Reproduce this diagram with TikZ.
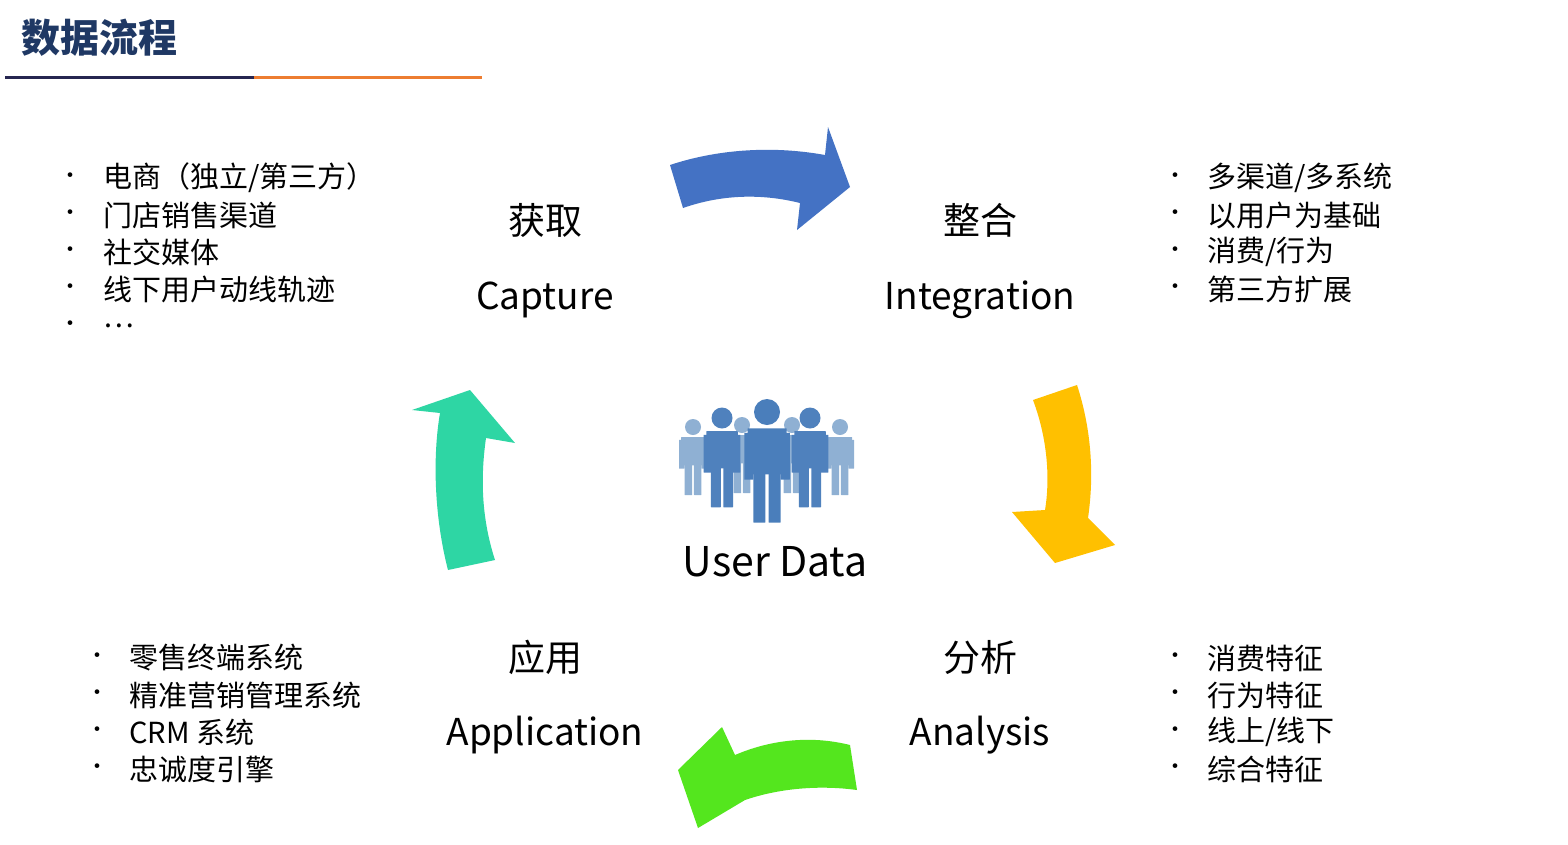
\documentclass[tikz,border=0pt]{standalone}
\usepackage{fontspec}
\setmainfont{Noto Sans CJK SC}
\begin{document}
\begin{tikzpicture}[x=1pt,y=-1pt,
  lbl/.style={font=\fontsize{37}{40}\selectfont, anchor=center},
  bl/.style={font=\fontsize{29}{30}\selectfont, anchor=west, inner sep=0},
  dot/.style={font=\fontsize{22}{24}\selectfont, anchor=center, inner sep=0},
  person/.pic={
    \fill (0,0) circle (1);
    \fill[rounded corners=0.5] (-1.5,1.25) rectangle (1.5,4.8);
    \fill[rounded corners=0.3] (-1.75,1.6) rectangle (-1.05,5.2);
    \fill[rounded corners=0.3] (1.05,1.6) rectangle (1.75,5.2);
    \fill[rounded corners=0.3] (-1.05,4) rectangle (-0.12,8.5);
    \fill[rounded corners=0.3] (0.12,4) rectangle (1.05,8.5);
  }]
\useasboundingbox (0,0) rectangle (1568,844);
\fill[white] (0,0) rectangle (1568,844);
\node[anchor=west, font=\bfseries\fontsize{39}{42}\selectfont, text={rgb,255:red,31;green,56;blue,100}] (title) at (18,38) {数据流程};
\draw[line width=3pt, color={rgb,255:red,38;green,38;blue,80}] (5,77) -- (254,77);
\draw[line width=3pt, color={rgb,255:red,237;green,125;blue,49}] (254,77) -- (482,77);
% arrows
\fill[color={rgb,255:red,68;green,114;blue,196}] (683,208) .. controls (720,195) and (760,193) .. (800,203) -- (797,230) -- (850,187) -- (828,127) -- (825,155) .. controls (770,145) and (715,150) .. (670,165) -- cycle;
\fill[color={rgb,255:red,255;green,192;blue,0}] (1033,400) .. controls (1048,440) and (1050,480) .. (1045,510) -- (1012,512) -- (1055,563) -- (1115,545) -- (1088,518) .. controls (1095,470) and (1090,425) .. (1077,385) -- cycle;
\fill[color={rgb,255:red,84;green,230;blue,30}] (850,745) .. controls (810,735) and (770,740) .. (735,755) -- (722,727) -- (678,770) -- (698,828) -- (745,800) .. controls (780,788) and (820,785) .. (857,790) -- cycle;
\fill[color={rgb,255:red,46;green,214;blue,164}] (448,570) .. controls (435,520) and (432,460) .. (440,413) -- (412,410) -- (470,390) -- (515,443) -- (486,438) .. controls (480,480) and (482,520) .. (495,560) -- cycle;
% people
\begin{scope}[color={rgb,255:red,143;green,176;blue,211}]
\pic[scale=8] at (693,427) {person};
\pic[scale=8] at (840,427) {person};
\pic[scale=8] at (742,425) {person};
\pic[scale=8] at (792,425) {person};
\end{scope}
\begin{scope}[color={rgb,255:red,79;green,129;blue,189}]
\pic[scale=10.5] at (722,418) {person};
\pic[scale=10.5] at (810,418) {person};
\end{scope}
\pic[scale=13,color={rgb,255:red,74;green,126;blue,187}] at (767,412) {person};
% labels
\node[lbl] (c1) at (545,220) {获取};
\node[lbl] (c2) at (545,300) {Capture};
\node[lbl] (i1) at (980,220) {整合};
\node[lbl] (i2) at (980,300) {Integration};
\node[lbl] (a1) at (980,657) {分析};
\node[lbl] (a2) at (980,735) {Analysis};
\node[lbl] (p1) at (545,657) {应用};
\node[lbl] (p2) at (545,735) {Application};
\node[lbl, font=\fontsize{41}{44}\selectfont] (ud) at (775,562) {User Data};
% bullets
\foreach \t [count=\i] in {电商（独立/第三方）,门店销售渠道,社交媒体,线下用户动线轨迹,…} {
  \node[dot] (la\i) at (70,{141+37*\i}) {•};
  \node[bl] (lt\i) at (103,{141+37*\i}) {\t};
}
\foreach \t [count=\i] in {多渠道/多系统,以用户为基础,消费/行为,第三方扩展} {
  \node[dot] (ra\i) at (1175,{141+37*\i}) {•};
  \node[bl] (rt\i) at (1207,{141+37*\i}) {\t};
}
\foreach \t [count=\i] in {零售终端系统,精准营销管理系统,CRM 系统,忠诚度引擎} {
  \node[dot] (lb\i) at (97,{621+37*\i}) {•};
  \node[bl] (lbt\i) at (129,{621+37*\i}) {\t};
}
\foreach \t [count=\i] in {消费特征,行为特征,线上/线下,综合特征} {
  \node[dot] (rb\i) at (1175,{621+37*\i}) {•};
  \node[bl] (rbt\i) at (1207,{621+37*\i}) {\t};
}
\end{tikzpicture}
\end{document}
